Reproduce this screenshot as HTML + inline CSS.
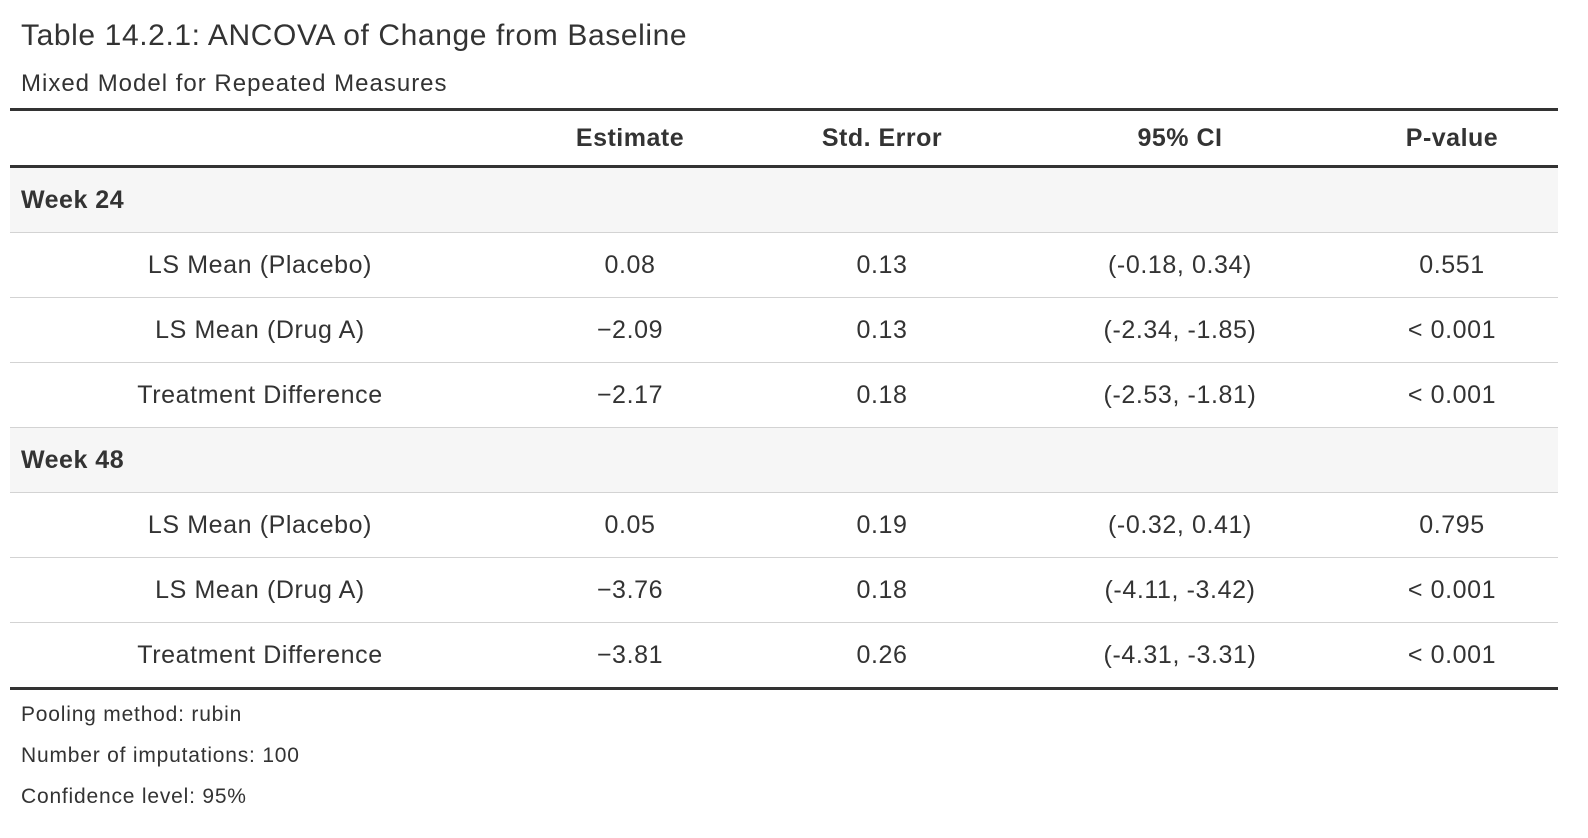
<!DOCTYPE html>
<html><head><meta charset="utf-8"><style>
body{margin:0;width:1588px;height:838px;background:#fff;font-family:"Liberation Sans",sans-serif;color:#333;position:relative;overflow:hidden}
.t{position:absolute;left:21px;top:19px;font-size:30px;letter-spacing:0.6px;color:#333}
.s{position:absolute;left:21px;top:70px;font-size:24px;letter-spacing:1px;color:#333}
.line{position:absolute;left:10px;width:1548px}
.row{position:absolute;left:10px;width:1548px;height:65px}
.c{position:absolute;top:0;height:100%;display:flex;align-items:center;justify-content:center;font-size:25px;letter-spacing:0.6px}
.h{font-weight:bold;letter-spacing:0.5px}
.g{background:#f6f6f6}
.g span{position:absolute;left:11px;top:0;height:100%;display:flex;align-items:center;font-weight:bold;font-size:25px;letter-spacing:0.5px}
.f{position:absolute;left:21px;font-size:21px;letter-spacing:0.8px;color:#333}
</style></head><body>
<div class="t">Table 14.2.1: ANCOVA of Change from Baseline</div>
<div class="s">Mixed Model for Repeated Measures</div>
<div class="line" style="top:108px;height:3px;background:#333"></div>
<div class="row" style="top:111px;height:54px">
<div class="c h" style="left:500px;width:240px">Estimate</div>
<div class="c h" style="left:740px;width:264px">Std. Error</div>
<div class="c h" style="left:1004px;width:332px">95% CI</div>
<div class="c h" style="left:1336px;width:212px">P-value</div>
</div>
<div class="line" style="top:165px;height:3px;background:#333"></div>
<div id="rows"></div>
<script>
const data=[["g","Week 24"],["LS Mean (Placebo)","0.08","0.13","(-0.18, 0.34)","0.551"],["LS Mean (Drug A)","\u22122.09","0.13","(-2.34, -1.85)","< 0.001"],["Treatment Difference","\u22122.17","0.18","(-2.53, -1.81)","< 0.001"],["g","Week 48"],["LS Mean (Placebo)","0.05","0.19","(-0.32, 0.41)","0.795"],["LS Mean (Drug A)","\u22123.76","0.18","(-4.11, -3.42)","< 0.001"],["Treatment Difference","\u22123.81","0.26","(-4.31, -3.31)","< 0.001"]];
const L=[[0,500],[500,240],[740,264],[1004,332],[1336,212]];
let h="",y=168;
data.forEach((r,i)=>{
 if(r[0]=="g"){h+=`<div class="row g" style="top:${y}px;height:65px"><span>${r[1]}</span></div>`;}
 else{h+=`<div class="row" style="top:${y}px;height:65px">`+r.map((v,j)=>`<div class="c" style="left:${L[j][0]}px;width:${L[j][1]}px">${v.replace("<","&lt;")}</div>`).join("")+`</div>`;}
 y+=65;
 if(i<data.length-1)h+=`<div class="line" style="top:${y-1}px;height:1px;background:#d3d3d3"></div>`;
});
h+=`<div class="line" style="top:${y-1}px;height:3px;background:#333"></div>`;
document.getElementById("rows").outerHTML=h;
</script>
<div class="f" style="top:703px">Pooling method: rubin</div>
<div class="f" style="top:744px">Number of imputations: 100</div>
<div class="f" style="top:785px">Confidence level: 95%</div>
</body></html>
